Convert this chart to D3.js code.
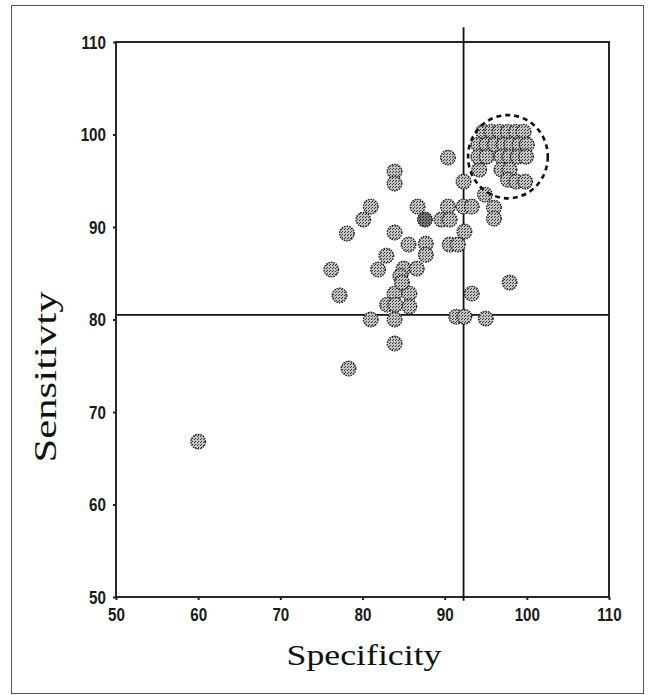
<!DOCTYPE html>
<html><head><meta charset="utf-8">
<script src="https://cdn.jsdelivr.net/npm/d3@7"></script>
<style>html,body{margin:0;padding:0;background:#fff;}</style>
</head><body>
<svg id="chart" width="652" height="695"></svg>
<script>
// ---- data ----
const specificity = [60.0, 97.9, 77.2, 83.9, 85.7, 93.3, 83.0, 84.0, 85.7, 81.0, 83.9, 91.4, 92.4, 95.0, 83.9, 78.3,
  90.4, 83.9, 83.9, 92.3, 94.2, 94.9, 96.0, 96.0, 81.0, 80.1, 86.7, 90.4, 89.6, 90.6, 92.3, 93.3,
  78.1, 83.9, 92.4, 85.6, 87.7, 87.7, 90.6, 91.6, 82.9, 76.2, 81.9, 85.0, 86.6, 84.6, 84.8,
  94.7, 95.7, 96.7, 97.7, 98.7, 99.6,
  94.1, 95.1, 96.1, 97.2, 98.1, 99.1, 100.0,
  94.1, 95.1, 96.9, 97.9, 98.9, 99.9,
  96.9, 97.9,
  97.7, 98.7, 99.8];
const sensitivity = [66.8, 84.0, 82.6, 82.8, 82.8, 82.8, 81.6, 81.6, 81.4, 80.0, 80.0, 80.3, 80.3, 80.1, 77.4, 74.7,
  97.5, 96.0, 94.7, 94.9, 96.2, 93.5, 92.1, 90.9, 92.2, 90.8, 92.2, 92.2, 90.8, 90.8, 92.2, 92.2,
  89.3, 89.4, 89.5, 88.1, 88.2, 87.0, 88.1, 88.1, 86.9, 85.4, 85.4, 85.5, 85.5, 84.7, 84.0,
  100.3, 100.3, 100.3, 100.3, 100.3, 100.3,
  98.9, 98.9, 98.9, 98.9, 98.9, 98.9, 98.9,
  97.6, 97.6, 97.6, 97.6, 97.6, 97.6,
  96.2, 96.2,
  95.1, 94.9, 94.9];
const darkSpecificity = [87.6];
const darkSensitivity = [90.8];
const xTicks = [50, 60, 70, 80, 90, 100, 110];
const yTicks = [50, 60, 70, 80, 90, 100, 110];
const cutSpecificity = 92.3;
const cutSensitivity = 80.5;
const circleCenter = [97.7, 97.6];
const circleRadius = [4.85, 4.5];
const xTitle = "Specificity";
const yTitle = "Sensitivty";

// ---- layout ----
const svg = d3.select("#chart");
const x = d3.scaleLinear().domain([50, 110]).range([116, 609]);
const y = d3.scaleLinear().domain([50, 110]).range([597, 42]);

// outer frame
svg.append("rect").attr("x", 11.5).attr("y", 5.5).attr("width", 632).attr("height", 688)
  .attr("fill", "none").attr("stroke", "#555").attr("stroke-width", 1);

// pattern for speckled markers
const defs = svg.append("defs");
function speckle(id, bg, dot) {
  const p = defs.append("pattern").attr("id", id).attr("patternUnits", "userSpaceOnUse")
    .attr("width", 3).attr("height", 3);
  p.append("rect").attr("width", 3).attr("height", 3).attr("fill", bg);
  p.append("rect").attr("x", 0).attr("y", 0).attr("width", 1).attr("height", 1).attr("fill", dot);
  p.append("rect").attr("x", 2).attr("y", 1).attr("width", 1).attr("height", 1).attr("fill", dot);
}
speckle("spk", "#c4c4c4", "#333");
speckle("spkDark", "#777", "#222");

// plot box
svg.append("rect").attr("x", x(50)).attr("y", y(110)).attr("width", x(110) - x(50)).attr("height", y(50) - y(110))
  .attr("fill", "none").attr("stroke", "#111").attr("stroke-width", 1.8);

// axes
const fontTick = "'Liberation Sans','Arial',sans-serif";
const xAxis = svg.append("g").attr("transform", `translate(0,${y(50)})`)
  .call(d3.axisBottom(x).tickValues(xTicks).tickSize(3).tickPadding(8).tickFormat(d3.format("d")));
const yAxis = svg.append("g").attr("transform", `translate(${x(50)},0)`)
  .call(d3.axisLeft(y).tickValues(yTicks).tickSize(3).tickPadding(6).tickFormat(d3.format("d")));
[xAxis, yAxis].forEach(g => {
  g.select(".domain").remove();
  g.selectAll(".tick line").attr("stroke", "#222").attr("stroke-width", 2);
  g.selectAll(".tick text").attr("fill", "#1a1a1a").style("font-family", fontTick)
    .style("font-weight", "bold").style("font-size", "19px")
    .attr("transform", "scale(0.8,1)");
});
yAxis.selectAll(".tick text").attr("x", -12.5);

// reference lines
svg.append("line").attr("x1", x(cutSpecificity)).attr("x2", x(cutSpecificity))
  .attr("y1", y(111.6)).attr("y2", y(49.6)).attr("stroke", "#111").attr("stroke-width", 1.8);
svg.append("line").attr("x1", x(50)).attr("x2", x(110))
  .attr("y1", y(cutSensitivity)).attr("y2", y(cutSensitivity)).attr("stroke", "#111").attr("stroke-width", 1.8);

// points
const pts = specificity.map((s, i) => ({s, v: sensitivity[i]}));
svg.append("g").selectAll("circle").data(pts).join("circle")
  .attr("cx", d => x(d.s)).attr("cy", d => y(d.v)).attr("r", 7.3)
  .attr("fill", "url(#spk)").attr("stroke", "#222").attr("stroke-width", 1.3)
  .attr("stroke-dasharray", "1.6 1");
const dpts = darkSpecificity.map((s, i) => ({s, v: darkSensitivity[i]}));
svg.append("g").selectAll("circle").data(dpts).join("circle")
  .attr("cx", d => x(d.s)).attr("cy", d => y(d.v)).attr("r", 7.3)
  .attr("fill", "url(#spkDark)").attr("stroke", "#111").attr("stroke-width", 1.3)
  .attr("stroke-dasharray", "1.6 1");

// dashed circle
svg.append("ellipse").attr("cx", x(circleCenter[0])).attr("cy", y(circleCenter[1]))
  .attr("rx", x(50 + circleRadius[0]) - x(50)).attr("ry", y(50) - y(50 + circleRadius[1]))
  .attr("fill", "none").attr("stroke", "#111").attr("stroke-width", 2.6).attr("stroke-dasharray", "5 4");

// titles
const fontTitle = "'Liberation Serif','DejaVu Serif',serif";
svg.append("text").attr("x", 364).attr("y", 665).attr("text-anchor", "middle")
  .attr("textLength", 155).attr("lengthAdjust", "spacingAndGlyphs")
  .style("font-family", fontTitle).style("font-size", "30px").attr("fill", "#111").text(xTitle);
svg.append("text").attr("transform", `translate(56,377) rotate(-90)`)
  .attr("text-anchor", "middle")
  .attr("textLength", 171).attr("lengthAdjust", "spacingAndGlyphs")
  .style("font-family", fontTitle).style("font-size", "32px").attr("fill", "#111").text(yTitle);
</script>
</body></html>
